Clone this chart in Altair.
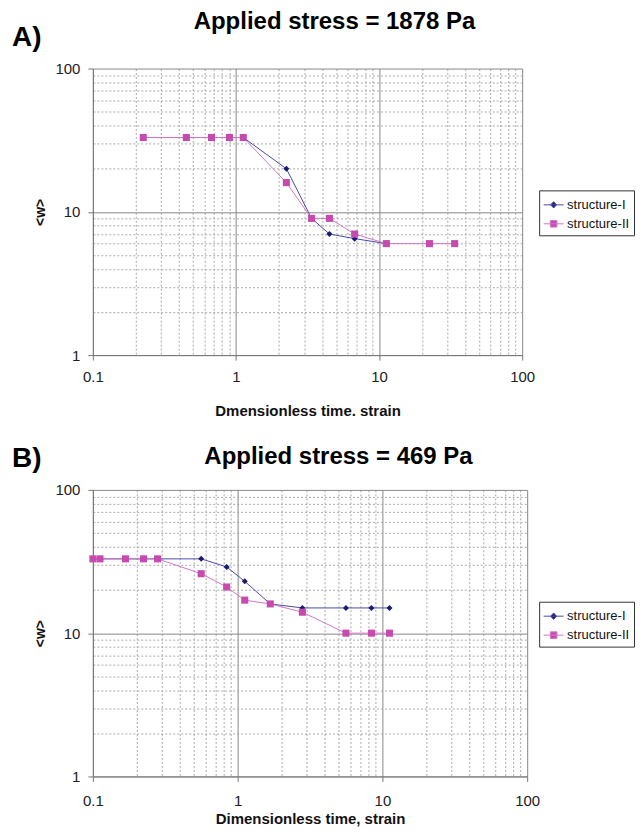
import altair as alt
import pandas as pd

# ---------------- data ----------------
panel_labels = ["A)", "B)"]
panel_titles = ["Applied stress = 1878 Pa", "Applied stress = 469 Pa"]
x_titles = ["Dmensionless time. strain", "Dimensionless time, strain"]
y_title = "<w>"
series_names = ["structure-I", "structure-II"]

a_t_I = [0.225, 0.45, 0.675, 0.9, 1.125, 2.25, 3.375, 4.5, 6.75, 11.25]
a_w_I = [33, 33, 33, 33, 33, 20, 9, 7, 6.5, 6]
a_t_II = [0.225, 0.45, 0.675, 0.9, 1.125, 2.25, 3.375, 4.5, 6.75, 11.25, 22.5, 33.75]
a_w_II = [33, 33, 33, 33, 33, 16, 9, 9, 7, 6, 6, 6]

b_t = [0.1, 0.112, 0.168, 0.224, 0.28, 0.56, 0.84, 1.12, 1.68, 2.8, 5.6, 8.4, 11.2]
b_w_I = [33, 33, 33, 33, 33, 33, 29, 23, 16, 15, 15, 15, 15]
b_w_II = [33, 33, 33, 33, 33, 26, 21, 17, 16, 14, 10, 10, 10]

x_decades = [0.1, 1, 10, 100]
y_decades = [1, 10, 100]

# ---------------- style ----------------
FONT = "Liberation Sans"
BLUE_LINE = "#4b4ba6"
BLUE_PT = "#1a1a70"
MAG_LINE = "#d276c8"
MAG_PT = "#c74aae"
PLOT_H = 287

x_vals = [round(k * d, 10) for d in x_decades[:-1] for k in range(1, 10)] + [x_decades[-1]]
y_vals = [round(k * d, 10) for d in y_decades[:-1] for k in range(1, 10)] + [y_decades[-1]]

MAJ = "abs(log(datum.value)/LN10 - round(log(datum.value)/LN10)) < 0.001"

line_I_path = "M-1,0L1,0M0,-0.32L0.3,0L0,0.32L-0.3,0Z"
sq_II_path = "M-1,0L1,0M-0.33,-0.33L0.33,-0.33L0.33,0.33L-0.33,0.33Z"


def make_df(t, w, name):
    return pd.DataFrame({"t": t, "w": w, "series": name})


def axis_common():
    return dict(
        labelExpr=f"({MAJ}) ? format(datum.value, '~g') : ''",
        grid=True,
        gridColor={"condition": {"test": MAJ, "value": "#888888"}, "value": "#a9a9a9"},
        gridDash={"condition": {"test": MAJ, "value": []}, "value": [2, 2]},
        gridWidth=1,
        tickOpacity={"condition": {"test": MAJ, "value": 1}, "value": 0},
        tickSize=5,
        tickColor="#777777",
        domainColor="#777777",
        labelFont=FONT,
        labelFontSize=15,
        labelColor="#222222",
        labelOverlap=False,
        titleFont=FONT,
        titleFontWeight="bold",
        titleColor="#111111",
    )


def panel(i, dfI, dfII, width, x_label_pad, x_title_pad, title_y, title_x, legend_y):
    x_enc = alt.X(
        "t:Q",
        scale=alt.Scale(type="log", domain=[x_decades[0], x_decades[-1]], nice=False),
        axis=alt.Axis(
            values=x_vals,
            title=x_titles[i],
            labelPadding=x_label_pad,
            labelFlush=False,
            titleFontSize=15,
            titlePadding=x_title_pad,
            **axis_common(),
        ),
    )
    y_enc = alt.Y(
        "w:Q",
        scale=alt.Scale(type="log", domain=[y_decades[0], y_decades[-1]], nice=False),
        axis=alt.Axis(
            values=y_vals,
            title=y_title,
            labelPadding=8,
            titleFontSize=14,
            titlePadding=7,
            **axis_common(),
        ),
    )

    line_I = alt.Chart(dfI).mark_line(color=BLUE_LINE, strokeWidth=1).encode(x=x_enc, y=y_enc)
    line_II = alt.Chart(dfII).mark_line(color=MAG_LINE, strokeWidth=1).encode(x=x_enc, y=y_enc)
    pts_I = alt.Chart(dfI).mark_point(
        shape="diamond", filled=True, size=36, color=BLUE_PT, opacity=1
    ).encode(x=x_enc, y=y_enc)
    pts_II = alt.Chart(dfII).mark_point(
        shape="square", filled=True, size=50, color=MAG_PT, opacity=1
    ).encode(x=x_enc, y=y_enc)

    leg = alt.Legend(
        title=None,
        orient="none",
        legendX=447,
        legendY=legend_y,
        labelFont=FONT,
        labelFontSize=13,
        labelColor="#111111",
        symbolSize=400,
        symbolStrokeWidth=1,
        symbolOpacity=1,
        strokeColor="#333333",
        fillColor="white",
        padding=4,
        rowPadding=1,
        labelOffset=3,
    )
    both = pd.concat([dfI, dfII])
    legend_layer = (
        alt.Chart(both)
        .transform_filter("datum.t < 0")
        .mark_point(filled=True, opacity=1)
        .encode(
            fill=alt.Fill("series:N", scale=alt.Scale(domain=series_names, range=[BLUE_PT, MAG_PT]), legend=leg),
            stroke=alt.Stroke("series:N", scale=alt.Scale(domain=series_names, range=[BLUE_LINE, MAG_LINE]), legend=leg),
            shape=alt.Shape("series:N", scale=alt.Scale(domain=series_names, range=[line_I_path, sq_II_path]), legend=leg),
        )
    )

    lab_df = pd.DataFrame({"label": [panel_labels[i]]})
    label_layer = alt.Chart(lab_df).mark_text(
        font=FONT, fontSize=28, fontWeight="bold", align="left", baseline="alphabetic", color="black"
    ).encode(x=alt.value(-81), y=alt.value(-23), text="label:N")

    tit_df = pd.DataFrame({"title": [panel_titles[i]]})
    title_layer = alt.Chart(tit_df).mark_text(
        font=FONT, fontSize=24, fontWeight="bold", align="center", baseline="alphabetic", color="black"
    ).encode(x=alt.value(title_x), y=alt.value(title_y), text="title:N")

    return alt.layer(
        line_I, line_II, pts_I, pts_II, legend_layer, label_layer, title_layer
    ).properties(width=width, height=PLOT_H)


dfA_I = make_df(a_t_I, a_w_I, series_names[0])
dfA_II = make_df(a_t_II, a_w_II, series_names[1])
dfB_I = make_df(b_t, b_w_I, series_names[0])
dfB_II = make_df(b_t, b_w_II, series_names[1])

pA = panel(0, dfA_I, dfA_II, 430, 9, 19, -40, 242, 122)
pB = panel(1, dfB_I, dfB_II, 435, 12, 3, -26, 246, 112)

chart = (
    alt.vconcat(pA, pB, spacing=27)
    .resolve_scale(x="independent", y="independent", fill="independent", stroke="independent", shape="independent")
    .resolve_legend(fill="independent", stroke="independent", shape="independent")
    .configure_view(stroke=None)
    .properties(padding={"left": 4, "top": 1, "right": 0, "bottom": 0}, background="white")
)

chart.save("out.html", embed_options={"renderer": "svg", "actions": False})
